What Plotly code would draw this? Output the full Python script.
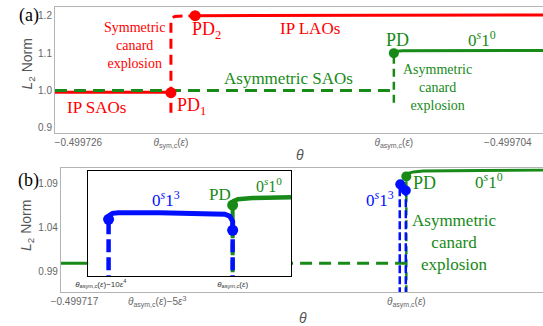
import plotly.graph_objects as go

# ---------------------------------------------------------------- styling
RED = "#ff0000"
GREEN = "#178a17"
BLUE = "#0010ff"
SERIF = "Liberation Serif, Times New Roman, Times, serif"
SANS = "Liberation Sans, Arial, sans-serif"
FRAME = "#b4b4b4"
TICKC = "#666666"

TH_SYM = "<i>θ</i><sub>sym,c</sub>(<i>ε</i>)"
TH_ASYM = "<i>θ</i><sub>asym,c</sub>(<i>ε</i>)"

# ---------------------------------------------------------------- panel (a) data
a_tickvals = [-0.499726, -0.49972126, -0.49970984, -0.499704]
a_ticktext = ["−0.499726", TH_SYM, TH_ASYM, "−0.499704"]
a_xrange = [-0.4997272, -0.4997022]
a_yticks = [0.9, 1.0, 1.1, 1.2]
a_yticktext = ["0.9", "1.0", "1.1", "1.2"]
a_yrange = [0.8872, 1.2232]

# in-phase small-amplitude oscillations (stable)
a_ipsao_x = [-0.4997272, -0.49972126]
a_ipsao_y = [0.995, 0.995]
# symmetric canard explosion branch
a_symexp_x = [-0.49972126, -0.49972126, -0.49972121, -0.49972106, -0.49972002]
a_symexp_y = [0.940, 1.183, 1.194, 1.198, 1.200]
# in-phase large-amplitude oscillations
a_iplao_x = [-0.49972002, -0.4997022]
a_iplao_y = [1.200, 1.202]
# period-doubling points
a_pd1 = ([-0.49972126], [0.994])
a_pd2 = ([-0.49972002], [1.200])
# asymmetric SAOs (unstable)
a_asao_x = [-0.4997272, -0.49970984]
a_asao_y = [1.0, 1.0]
# asymmetric canard explosion
a_asymexp_x = [-0.49970984, -0.49970984]
a_asymexp_y = [0.967, 1.0997]
# 0^s 1^0 branch
a_0s10_x = [-0.49970984, -0.49970974, -0.49970939, -0.4997022]
a_0s10_y = [1.0997, 1.1045, 1.1059, 1.1067]
a_pd = ([-0.49970984], [1.0997])

# ---------------------------------------------------------------- panel (b) data
b_tickvals = [-0.499717, -0.49971536, -0.49971042, -0.499708]
b_ticktext = ["−0.499717", TH_ASYM + "−5<i>ε</i><sup>3</sup>", TH_ASYM, "−0.499708"]
b_xrange = [-0.49971727, -0.49970771]
b_yticks = [0.99, 1.04, 1.09]
b_yticktext = ["0.99", "1.04", "1.09"]
b_yrange = [0.9661, 1.1070]

b_sao_x = [-0.49971727, -0.49971667]
b_sao_y = [0.999, 0.999]
b_asao_x = [-0.49971667, -0.49971042]
b_asao_y = [0.999, 0.999]
b_exp_x = [-0.49971042, -0.49971042]
b_exp_y = [0.950, 1.098]
b_0s10_x = [-0.49971042, -0.49971038, -0.49971028, -0.49971009, -0.49970771]
b_0s10_y = [1.098, 1.1014, 1.1031, 1.1042, 1.1053]
b_pd = ([-0.49971042], [1.098])
b_0s13_x = [-0.49971054, -0.49971050, -0.49971045, -0.49971043]
b_0s13_y = [1.0889, 1.0895, 1.0870, 1.0820]
b_0s13_left_x = [-0.49971055, -0.49971055]
b_0s13_left_y = [0.950, 1.0889]
b_0s13_right_x = [-0.49971043, -0.49971043]
b_0s13_right_y = [0.950, 1.0820]
b_0s13_dots = ([-0.49971054, -0.49971043], [1.0889, 1.0820])

# ---------------------------------------------------------------- inset data
# x measured from theta_asym,c(eps) in units of eps^4
ins_tickvals = [-10, 0]
ins_ticktext = [TH_ASYM + "−10<i>ε</i><sup>4</sup>", TH_ASYM]
ins_xrange = [-10.96, 4.44]
ins_yrange = [0.9843, 1.1036]

ins_0s13_x = [-9.41, -9.33, -9.11, -8.67, -5.56, -1.85, -0.59, -0.22, 0.0, 0.0]
ins_0s13_y = [1.0491, 1.0536, 1.0559, 1.0565, 1.0565, 1.0553, 1.0548, 1.0525, 1.0468, 1.0366]
ins_left_x = [-9.41, -9.41]
ins_left_y = [0.95, 1.0491]
ins_right_x = [0.0, 0.0]
ins_right_y = [0.95, 1.0366]
ins_blue_dots = ([-9.41, 0.0], [1.0491, 1.0366])
ins_green_dash_x = [0.0, 0.0]
ins_green_dash_y = [0.95, 1.0653]
ins_0s10_x = [0.0, 0.1, 0.4, 1.5, 4.44]
ins_0s10_y = [1.0653, 1.0700, 1.0720, 1.0733, 1.0741]
ins_pd = ([0.0], [1.0653])

fig = go.Figure()


def axes(ax):
    return ("x", "y") if ax == "1" else ("x" + ax, "y" + ax)


def line(x, y, color, width, dash="solid", ax="1"):
    xa, ya = axes(ax)
    fig.add_trace(go.Scatter(x=x, y=y, mode="lines", xaxis=xa, yaxis=ya,
                             line=dict(color=color, width=width, dash=dash),
                             hoverinfo="skip", showlegend=False))


def dots(pts, color, size, ax="1"):
    xa, ya = axes(ax)
    fig.add_trace(go.Scatter(x=pts[0], y=pts[1], mode="markers", xaxis=xa, yaxis=ya,
                             marker=dict(color=color, size=size),
                             hoverinfo="skip", showlegend=False, cliponaxis=False))


# panel (a)
line(a_ipsao_x, a_ipsao_y, RED, 3)
line(a_symexp_x, a_symexp_y, RED, 3, "10px,6px")
line(a_iplao_x, a_iplao_y, RED, 3)
line(a_asao_x, a_asao_y, GREEN, 3, "12px,7px")
line(a_asymexp_x, a_asymexp_y, GREEN, 2.5, "8px,5px")
line(a_0s10_x, a_0s10_y, GREEN, 3)
dots(a_pd1, RED, 11)
dots(a_pd2, RED, 11)
dots(a_pd, GREEN, 10)

# panel (b)
line(b_sao_x, b_sao_y, GREEN, 3, ax="2")
line(b_asao_x, b_asao_y, GREEN, 3, "12px,7px", "2")
line(b_exp_x, b_exp_y, GREEN, 2.5, "8px,5px", "2")
line(b_0s10_x, b_0s10_y, GREEN, 3, ax="2")
line(b_0s13_left_x, b_0s13_left_y, BLUE, 2.5, "8px,3px", "2")
line(b_0s13_right_x, b_0s13_right_y, BLUE, 2.5, "8px,3px", "2")
line(b_0s13_x, b_0s13_y, BLUE, 3, ax="2")
dots(b_pd, GREEN, 10, "2")
dots(b_0s13_dots, BLUE, 10, "2")

# inset
line(ins_green_dash_x, ins_green_dash_y, GREEN, 4, "12px,5px", "3")
line(ins_0s10_x, ins_0s10_y, GREEN, 4.5, ax="3")
line(ins_left_x, ins_left_y, BLUE, 4.5, "13px,5px", "3")
line(ins_right_x, ins_right_y, BLUE, 4.5, "13px,5px", "3")
line(ins_0s13_x, ins_0s13_y, BLUE, 5, ax="3")
dots(ins_pd, GREEN, 11, "3")
dots(ins_blue_dots, BLUE, 11, "3")

W, H = 543, 326


def px(x):
    return x / W


def py(y):
    return 1 - y / H


annotations = []


def ann(text, x, y, color, size, family=SERIF, angle=0):
    annotations.append(dict(text=text, x=px(x), y=py(y), xref="paper", yref="paper",
                            xanchor="center", yanchor="middle", showarrow=False,
                            textangle=angle,
                            font=dict(color=color, size=size, family=family)))


S10 = "0<sup><i>s</i></sup>1<sup>0</sup>"
S13 = "0<sup><i>s</i></sup>1<sup>3</sup>"

# panel (a) labels
ann("(a)", 16, 16, "black", 18)
ann("Symmetric<br>canard<br>explosion", 124, 46, RED, 14)
ann("PD<sub>2</sub>", 198, 31, RED, 18)
ann("IP LAOs", 304, 29, RED, 17)
ann("IP SAOs", 86, 108, RED, 17)
ann("PD<sub>1</sub>", 183, 107, RED, 18)
ann("Asymmetric SAOs", 282, 79, GREEN, 17)
ann("PD", 394, 40, GREEN, 18)
ann(S10, 481, 39, GREEN, 17)
ann("Asymmetric<br>canard<br>explosion", 435, 88, GREEN, 14)
ann("<i>L</i><sub>2</sub> Norm", 15, 64, "#555555", 14, SANS, -90)
ann("<i>θ</i>", 294, 155, "#555555", 14, SANS)

# panel (b) labels
ann("(b)", 16, 181, "black", 18)
ann("PD", 422, 184, GREEN, 18)
ann(S10, 488, 182, GREEN, 17)
ann(S13, 376, 200, BLUE, 17)
ann("Asymmetric<br>canard<br>explosion", 452, 243, GREEN, 17)
ann("<i>L</i><sub>2</sub> Norm", 15, 226, "#555555", 14, SANS, -90)
ann("<i>θ</i>", 297, 319, "#555555", 14, SANS)

# inset labels
ann(S13, 157, 200, BLUE, 17)
ann("PD", 212, 195, GREEN, 17)
ann(S10, 262, 186, GREEN, 16)

tickfont = dict(size=10, color=TICKC, family=SANS)
common_x = dict(showgrid=False, zeroline=False, showline=True, linecolor=FRAME,
                linewidth=1, mirror=True, ticks="", tickfont=tickfont, tickmode="array")
common_y = dict(showgrid=False, zeroline=False, showline=True, linecolor=FRAME,
                linewidth=1, ticks="", tickfont=tickfont, tickmode="array")

fig.update_layout(
    width=W, height=H,
    margin=dict(l=0, r=0, t=0, b=0),
    paper_bgcolor="white", plot_bgcolor="white",
    showlegend=False,
    annotations=annotations,
    xaxis=dict(common_x, domain=[px(43), 1], range=a_xrange, anchor="y",
               tickvals=a_tickvals, ticktext=a_ticktext),
    yaxis=dict(common_y, domain=[py(133), py(7)], range=a_yrange, anchor="x",
               tickvals=a_yticks, ticktext=a_yticktext),
    xaxis2=dict(common_x, domain=[px(49), 1], range=b_xrange, anchor="y2",
                tickvals=b_tickvals, ticktext=b_ticktext),
    yaxis2=dict(common_y, domain=[py(293), py(169)], range=b_yrange, anchor="x2",
                tickvals=b_yticks, ticktext=b_yticktext),
    xaxis3=dict(domain=[px(77), px(285)], range=ins_xrange, anchor="y3",
                showgrid=False, zeroline=False, showline=True, linecolor="black",
                linewidth=1, mirror=True, ticks="", tickmode="array",
                tickvals=ins_tickvals, ticktext=ins_ticktext,
                tickfont=dict(size=8, color="#333333", family=SANS)),
    yaxis3=dict(domain=[py(277), py(172)], range=ins_yrange, anchor="x3",
                showgrid=False, zeroline=False, showline=True, linecolor="black",
                linewidth=1, mirror=True, ticks="", showticklabels=False),
)

fig.write_html("out.html")
